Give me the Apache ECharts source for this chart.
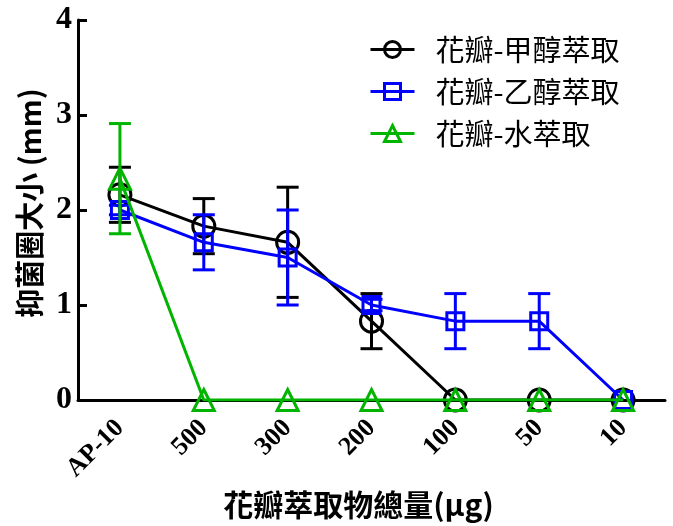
<!DOCTYPE html>
<html>
<head>
<meta charset="utf-8">
<script src="https://cdn.jsdelivr.net/npm/echarts@6/dist/echarts.min.js"></script>
<style>html,body{margin:0;padding:0;background:#fff;}#c{width:673px;height:526px;}</style>
</head>
<body>
<div id="c"></div>
<script>
var categories = ['AP-10', '500', '300', '200', '100', '50', '10'];
var seriesNames = ['花瓣-甲醇萃取', '花瓣-乙醇萃取', '花瓣-水萃取'];
var methanol = [2.16, 1.83, 1.66, 0.83, 0, 0, 0];
var methanolErr = [0.29, 0.29, 0.58, 0.29, 0, 0, 0];
var ethanol = [2.0, 1.66, 1.5, 1.0, 0.83, 0.83, 0];
var ethanolErr = [0.05, 0.29, 0.5, 0.06, 0.29, 0.29, 0];
var water = [2.33, 0, 0, 0, 0, 0, 0];
var waterErr = [0.58, 0, 0, 0, 0, 0, 0];
var yTicks = [0, 1, 2, 3, 4];

var colors = ['#000000', '#0000ff', '#00b400'];
var symbols = ['circle', 'rect', 'triangle'];
var symbolSizes = [22, 17, 21];
var values = [methanol, ethanol, water];
var errs = [methanolErr, ethanolErr, waterErr];

function errData(v, e) {
  var out = [];
  for (var i = 0; i < v.length; i++) {
    if (e[i] > 0) out.push([i, v[i] - e[i], v[i] + e[i]]);
  }
  return out;
}

function makeErr(color) {
  return function (params, api) {
    var x = api.value(0);
    var lo = api.coord([x, api.value(1)]);
    var hi = api.coord([x, api.value(2)]);
    var hw = 11;
    var st = { stroke: color, lineWidth: 3 };
    return {
      type: 'group',
      children: [
        { type: 'line', shape: { x1: lo[0], y1: lo[1], x2: hi[0], y2: hi[1] }, style: st },
        { type: 'line', shape: { x1: hi[0] - hw, y1: hi[1], x2: hi[0] + hw, y2: hi[1] }, style: st },
        { type: 'line', shape: { x1: lo[0] - hw, y1: lo[1], x2: lo[0] + hw, y2: lo[1] }, style: st }
      ]
    };
  };
}

var series = [];
for (var k = 0; k < 3; k++) {
  series.push({
    name: seriesNames[k],
    type: 'line',
    data: values[k],
    symbol: symbols[k],
    symbolSize: symbolSizes[k],
    z: 3 + k * 2,
    color: colors[k],
    lineStyle: { color: colors[k], width: 3 },
    itemStyle: { color: 'rgba(255,255,255,0)', borderColor: colors[k], borderWidth: 3 },
    animation: false
  });
  series.push({
    name: seriesNames[k],
    type: 'custom',
    data: errData(values[k], errs[k]),
    renderItem: makeErr(colors[k]),
    z: 4 + k * 2,
    encode: { x: 0, y: [1, 2] },
    animation: false,
    silent: true
  });
}

var chart = echarts.init(document.getElementById('c'), null, { renderer: 'canvas' });
chart.setOption({
  animation: false,
  grid: { left: 78, right: 8, top: 20, bottom: 126 },
  legend: {
    data: seriesNames,
    orient: 'vertical',
    left: 364,
    top: 30,
    itemWidth: 44,
    itemHeight: 20,
    itemGap: 13,
    lineStyle: { width: 3 },
    itemStyle: { borderWidth: 3 },
    textStyle: { fontSize: 29, color: '#000', fontFamily: 'Noto Sans CJK TC', padding: [0, 0, 0, 16] }
  },
  xAxis: {
    type: 'category',
    data: categories,
    boundaryGap: true,
    name: '花瓣萃取物總量(μg)',
    nameLocation: 'middle',
    nameGap: 86,
    nameTextStyle: { fontSize: 30, fontWeight: 'bold', color: '#000', fontFamily: 'Noto Sans CJK TC', padding: [0, 26, 0, 0] },
    axisLine: { lineStyle: { color: '#000', width: 3 } },
    axisTick: { inside: true, alignWithLabel: true, length: 10, lineStyle: { color: '#000', width: 3 } },
    axisLabel: { rotate: 45, margin: 24, fontSize: 26, fontWeight: 'bold', color: '#000', fontFamily: 'Liberation Serif', interval: 0 },
    splitLine: { show: false }
  },
  yAxis: {
    type: 'value',
    min: yTicks[0],
    max: yTicks[yTicks.length - 1],
    interval: 1,
    name: '抑菌圈大小 (mm)',
    nameLocation: 'middle',
    nameGap: 34,
    nameTextStyle: { fontSize: 29, fontWeight: 'bold', color: '#000', fontFamily: 'Noto Sans CJK TC', padding: [0, 0, 0, 14] },
    axisLine: { show: true, lineStyle: { color: '#000', width: 3 } },
    axisTick: { show: true, inside: true, length: 9, lineStyle: { color: '#000', width: 3 } },
    axisLabel: { margin: 6, fontSize: 32, fontWeight: 'bold', color: '#000', fontFamily: 'Liberation Serif' },
    splitLine: { show: false }
  },
  series: series
});
</script>
</body>
</html>
